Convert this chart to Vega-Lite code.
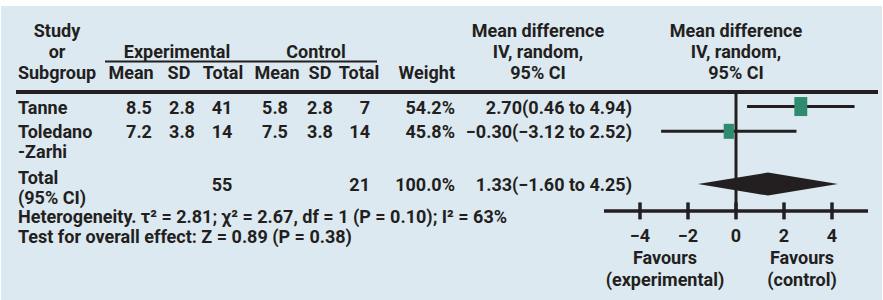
{
  "$schema": "https://vega.github.io/schema/vega-lite/v6.json",
  "width": 883,
  "height": 300,
  "autosize": {"type": "fit", "contains": "padding"},
  "padding": {"top": 6, "left": 1, "right": 1, "bottom": 0},
  "background": "#ffffff",
  "config": {
    "view": {"fill": "#dde9f1", "stroke": null},
    "text": {"font": "Roboto", "fontSize": 18, "fontWeight": "bold", "color": "#231f20", "baseline": "middle"}
  },
  "datasets": {
    "rows": [
      {"kind": "study", "study": "Tanne", "row": 4.55, "mean_e": "8.5", "sd_e": "2.8", "n_e": "41", "mean_c": "5.8", "sd_c": "2.8", "n_c": "7", "weight": 54.2, "weight_txt": "54.2%", "md": 2.70, "lo": 0.46, "hi": 4.94, "md_txt": "2.70(0.46 to 4.94)"},
      {"kind": "study", "study": "Toledano\n-Zarhi", "row": 5.73, "mean_e": "7.2", "sd_e": "3.8", "n_e": "14", "mean_c": "7.5", "sd_c": "3.8", "n_c": "14", "weight": 45.8, "weight_txt": "45.8%", "md": -0.30, "lo": -3.12, "hi": 2.52, "md_txt": "−0.30(−3.12 to 2.52)"},
      {"kind": "total", "study": "Total\n(95% CI)", "row": 8.24, "n_e": "55", "n_c": "21", "weight": 100.0, "weight_txt": "100.0%", "md": 1.33, "lo": -1.60, "hi": 4.25, "md_txt": "1.33(−1.60 to 4.25)"}
    ],
    "headers": [
      {"col": "study", "row": 1, "h": "Study"},
      {"col": "study", "row": 2, "h": "or"},
      {"col": "study", "row": 3, "h": "Subgroup"},
      {"col": "exp", "row": 2, "h": "Experimental"},
      {"col": "ctl", "row": 2, "h": "Control"},
      {"col": "mean_e", "row": 3, "h": "Mean"},
      {"col": "sd_e", "row": 3, "h": "SD"},
      {"col": "n_e", "row": 3, "h": "Total"},
      {"col": "mean_c", "row": 3, "h": "Mean"},
      {"col": "sd_c", "row": 3, "h": "SD"},
      {"col": "n_c", "row": 3, "h": "Total"},
      {"col": "weight", "row": 3, "h": "Weight"},
      {"col": "md", "row": 1, "h": "Mean difference"},
      {"col": "md", "row": 2, "h": "IV, random,"},
      {"col": "md", "row": 3, "h": "95% CI"},
      {"col": "plot", "row": 1, "h": "Mean difference"},
      {"col": "plot", "row": 2, "h": "IV, random,"},
      {"col": "plot", "row": 3, "h": "95% CI"}
    ],
    "notes": [
      {"row": 9.86, "note": "Heterogeneity. τ² = 2.81; χ² = 2.67, df = 1 (P = 0.10); I² = 63%"},
      {"row": 10.81, "note": "Test for overall effect: Z = 0.89 (P = 0.38)"}
    ],
    "ticks": [{"v": -4}, {"v": -2}, {"v": 0}, {"v": 2}, {"v": 4}],
    "favours": [
      {"md": -2.96, "label": "Favours\n(experimental)"},
      {"md": 2.75, "label": "Favours\n(control)"}
    ],
    "blank": [{}]
  },
  "resolve": {"scale": {"x": "independent"}},
  "layer": [
    {
      "layer": [
        {"data": {"name": "headers"}, "transform": [{"filter": "datum.col == 'study'"}], "mark": {"type": "text", "align": "center"},
         "encoding": {"x": {"datum": 57, "type": "quantitative", "scale": {"domain": [1, 882], "nice": false, "zero": false}, "axis": null},
                      "y": {"field": "row", "type": "quantitative", "scale": {"domain": [-0.238, 13.762], "reverse": true, "nice": false, "zero": false}, "axis": null},
                      "text": {"field": "h"}}},
        {"data": {"name": "headers"}, "transform": [{"filter": "datum.col == 'exp'"}], "mark": {"type": "text", "align": "center"},
         "encoding": {"x": {"datum": 177, "type": "quantitative", "scale": {"domain": [1, 882], "nice": false, "zero": false}, "axis": null},
                      "y": {"field": "row", "type": "quantitative", "scale": {"domain": [-0.238, 13.762], "reverse": true, "nice": false, "zero": false}, "axis": null},
                      "text": {"field": "h"}}},
        {"data": {"name": "headers"}, "transform": [{"filter": "datum.col == 'ctl'"}], "mark": {"type": "text", "align": "center"},
         "encoding": {"x": {"datum": 316, "type": "quantitative", "scale": {"domain": [1, 882], "nice": false, "zero": false}, "axis": null},
                      "y": {"field": "row", "type": "quantitative", "scale": {"domain": [-0.238, 13.762], "reverse": true, "nice": false, "zero": false}, "axis": null},
                      "text": {"field": "h"}}},
        {"data": {"name": "headers"}, "transform": [{"filter": "datum.col == 'mean_e'"}], "mark": {"type": "text", "align": "center"},
         "encoding": {"x": {"datum": 131, "type": "quantitative", "scale": {"domain": [1, 882], "nice": false, "zero": false}, "axis": null},
                      "y": {"field": "row", "type": "quantitative", "scale": {"domain": [-0.238, 13.762], "reverse": true, "nice": false, "zero": false}, "axis": null},
                      "text": {"field": "h"}}},
        {"data": {"name": "headers"}, "transform": [{"filter": "datum.col == 'sd_e'"}], "mark": {"type": "text", "align": "center"},
         "encoding": {"x": {"datum": 179, "type": "quantitative", "scale": {"domain": [1, 882], "nice": false, "zero": false}, "axis": null},
                      "y": {"field": "row", "type": "quantitative", "scale": {"domain": [-0.238, 13.762], "reverse": true, "nice": false, "zero": false}, "axis": null},
                      "text": {"field": "h"}}},
        {"data": {"name": "headers"}, "transform": [{"filter": "datum.col == 'n_e'"}], "mark": {"type": "text", "align": "center"},
         "encoding": {"x": {"datum": 223, "type": "quantitative", "scale": {"domain": [1, 882], "nice": false, "zero": false}, "axis": null},
                      "y": {"field": "row", "type": "quantitative", "scale": {"domain": [-0.238, 13.762], "reverse": true, "nice": false, "zero": false}, "axis": null},
                      "text": {"field": "h"}}},
        {"data": {"name": "headers"}, "transform": [{"filter": "datum.col == 'mean_c'"}], "mark": {"type": "text", "align": "center"},
         "encoding": {"x": {"datum": 277, "type": "quantitative", "scale": {"domain": [1, 882], "nice": false, "zero": false}, "axis": null},
                      "y": {"field": "row", "type": "quantitative", "scale": {"domain": [-0.238, 13.762], "reverse": true, "nice": false, "zero": false}, "axis": null},
                      "text": {"field": "h"}}},
        {"data": {"name": "headers"}, "transform": [{"filter": "datum.col == 'sd_c'"}], "mark": {"type": "text", "align": "center"},
         "encoding": {"x": {"datum": 320, "type": "quantitative", "scale": {"domain": [1, 882], "nice": false, "zero": false}, "axis": null},
                      "y": {"field": "row", "type": "quantitative", "scale": {"domain": [-0.238, 13.762], "reverse": true, "nice": false, "zero": false}, "axis": null},
                      "text": {"field": "h"}}},
        {"data": {"name": "headers"}, "transform": [{"filter": "datum.col == 'n_c'"}], "mark": {"type": "text", "align": "center"},
         "encoding": {"x": {"datum": 359, "type": "quantitative", "scale": {"domain": [1, 882], "nice": false, "zero": false}, "axis": null},
                      "y": {"field": "row", "type": "quantitative", "scale": {"domain": [-0.238, 13.762], "reverse": true, "nice": false, "zero": false}, "axis": null},
                      "text": {"field": "h"}}},
        {"data": {"name": "headers"}, "transform": [{"filter": "datum.col == 'weight'"}], "mark": {"type": "text", "align": "right"},
         "encoding": {"x": {"datum": 455, "type": "quantitative", "scale": {"domain": [1, 882], "nice": false, "zero": false}, "axis": null},
                      "y": {"field": "row", "type": "quantitative", "scale": {"domain": [-0.238, 13.762], "reverse": true, "nice": false, "zero": false}, "axis": null},
                      "text": {"field": "h"}}},
        {"data": {"name": "headers"}, "transform": [{"filter": "datum.col == 'md'"}], "mark": {"type": "text", "align": "center"},
         "encoding": {"x": {"datum": 538, "type": "quantitative", "scale": {"domain": [1, 882], "nice": false, "zero": false}, "axis": null},
                      "y": {"field": "row", "type": "quantitative", "scale": {"domain": [-0.238, 13.762], "reverse": true, "nice": false, "zero": false}, "axis": null},
                      "text": {"field": "h"}}},
        {"data": {"name": "blank"}, "mark": {"type": "rule", "strokeWidth": 2, "color": "#231f20"},
         "encoding": {"x": {"datum": 105, "type": "quantitative", "scale": {"domain": [1, 882], "nice": false, "zero": false}, "axis": null},
                      "x2": {"datum": 377},
                      "y": {"datum": 2.4, "type": "quantitative", "scale": {"domain": [-0.238, 13.762], "reverse": true, "nice": false, "zero": false}, "axis": null}}},
        {"data": {"name": "blank"}, "mark": {"type": "rule", "strokeWidth": 4, "color": "#231f20"},
         "encoding": {"x": {"datum": 16, "type": "quantitative", "scale": {"domain": [1, 882], "nice": false, "zero": false}, "axis": null},
                      "x2": {"datum": 878},
                      "y": {"datum": 3.86, "type": "quantitative", "scale": {"domain": [-0.238, 13.762], "reverse": true, "nice": false, "zero": false}, "axis": null}}},
        {"data": {"name": "rows"}, "transform": [{"filter": "datum.kind == 'study'"}], "mark": {"type": "text", "align": "left", "dy": 2, "lineBreak": "\n", "lineHeight": 20},
         "encoding": {"x": {"datum": 18, "type": "quantitative", "scale": {"domain": [1, 882], "nice": false, "zero": false}, "axis": null},
                      "y": {"field": "row", "type": "quantitative", "scale": {"domain": [-0.238, 13.762], "reverse": true, "nice": false, "zero": false}, "axis": null},
                      "text": {"field": "study"}}},
        {"data": {"name": "rows"}, "transform": [{"filter": "datum.kind == 'total'"}], "mark": {"type": "text", "align": "left", "dy": -5, "lineBreak": "\n", "lineHeight": 20},
         "encoding": {"x": {"datum": 18, "type": "quantitative", "scale": {"domain": [1, 882], "nice": false, "zero": false}, "axis": null},
                      "y": {"field": "row", "type": "quantitative", "scale": {"domain": [-0.238, 13.762], "reverse": true, "nice": false, "zero": false}, "axis": null},
                      "text": {"field": "study"}}},
        {"data": {"name": "rows"}, "transform": [{"filter": "datum.kind == 'study'"}], "mark": {"type": "text", "align": "center", "dy": 2},
         "encoding": {"x": {"datum": 139, "type": "quantitative", "scale": {"domain": [1, 882], "nice": false, "zero": false}, "axis": null},
                      "y": {"field": "row", "type": "quantitative", "scale": {"domain": [-0.238, 13.762], "reverse": true, "nice": false, "zero": false}, "axis": null},
                      "text": {"field": "mean_e"}}},
        {"data": {"name": "rows"}, "transform": [{"filter": "datum.kind == 'study'"}], "mark": {"type": "text", "align": "center", "dy": 2},
         "encoding": {"x": {"datum": 182, "type": "quantitative", "scale": {"domain": [1, 882], "nice": false, "zero": false}, "axis": null},
                      "y": {"field": "row", "type": "quantitative", "scale": {"domain": [-0.238, 13.762], "reverse": true, "nice": false, "zero": false}, "axis": null},
                      "text": {"field": "sd_e"}}},
        {"data": {"name": "rows"}, "mark": {"type": "text", "align": "center", "dy": 2},
         "encoding": {"x": {"datum": 222, "type": "quantitative", "scale": {"domain": [1, 882], "nice": false, "zero": false}, "axis": null},
                      "y": {"field": "row", "type": "quantitative", "scale": {"domain": [-0.238, 13.762], "reverse": true, "nice": false, "zero": false}, "axis": null},
                      "text": {"field": "n_e"}}},
        {"data": {"name": "rows"}, "transform": [{"filter": "datum.kind == 'study'"}], "mark": {"type": "text", "align": "center", "dy": 2},
         "encoding": {"x": {"datum": 275, "type": "quantitative", "scale": {"domain": [1, 882], "nice": false, "zero": false}, "axis": null},
                      "y": {"field": "row", "type": "quantitative", "scale": {"domain": [-0.238, 13.762], "reverse": true, "nice": false, "zero": false}, "axis": null},
                      "text": {"field": "mean_c"}}},
        {"data": {"name": "rows"}, "transform": [{"filter": "datum.kind == 'study'"}], "mark": {"type": "text", "align": "center", "dy": 2},
         "encoding": {"x": {"datum": 320, "type": "quantitative", "scale": {"domain": [1, 882], "nice": false, "zero": false}, "axis": null},
                      "y": {"field": "row", "type": "quantitative", "scale": {"domain": [-0.238, 13.762], "reverse": true, "nice": false, "zero": false}, "axis": null},
                      "text": {"field": "sd_c"}}},
        {"data": {"name": "rows"}, "mark": {"type": "text", "align": "right", "dy": 2},
         "encoding": {"x": {"datum": 370, "type": "quantitative", "scale": {"domain": [1, 882], "nice": false, "zero": false}, "axis": null},
                      "y": {"field": "row", "type": "quantitative", "scale": {"domain": [-0.238, 13.762], "reverse": true, "nice": false, "zero": false}, "axis": null},
                      "text": {"field": "n_c"}}},
        {"data": {"name": "rows"}, "mark": {"type": "text", "align": "right", "dy": 2},
         "encoding": {"x": {"datum": 455, "type": "quantitative", "scale": {"domain": [1, 882], "nice": false, "zero": false}, "axis": null},
                      "y": {"field": "row", "type": "quantitative", "scale": {"domain": [-0.238, 13.762], "reverse": true, "nice": false, "zero": false}, "axis": null},
                      "text": {"field": "weight_txt"}}},
        {"data": {"name": "rows"}, "mark": {"type": "text", "align": "right", "dy": 2},
         "encoding": {"x": {"datum": 632, "type": "quantitative", "scale": {"domain": [1, 882], "nice": false, "zero": false}, "axis": null},
                      "y": {"field": "row", "type": "quantitative", "scale": {"domain": [-0.238, 13.762], "reverse": true, "nice": false, "zero": false}, "axis": null},
                      "text": {"field": "md_txt"}}},
        {"data": {"name": "notes"}, "mark": {"type": "text", "align": "left"},
         "encoding": {"x": {"datum": 18, "type": "quantitative", "scale": {"domain": [1, 882], "nice": false, "zero": false}, "axis": null},
                      "y": {"field": "row", "type": "quantitative", "scale": {"domain": [-0.238, 13.762], "reverse": true, "nice": false, "zero": false}, "axis": null},
                      "text": {"field": "note"}}}
      ]
    },
    {
      "layer": [
        {"data": {"name": "headers"}, "transform": [{"filter": "datum.col == 'plot'"}], "mark": {"type": "text", "align": "center"},
         "encoding": {"x": {"datum": 0, "type": "quantitative", "scale": {"domain": [-30.625, 6.0833], "nice": false, "zero": false}, "axis": null},
                      "y": {"field": "row", "type": "quantitative", "scale": {"domain": [-0.238, 13.762], "reverse": true, "nice": false, "zero": false}, "axis": null},
                      "text": {"field": "h"}}},
        {"data": {"name": "blank"}, "mark": {"type": "rule", "strokeWidth": 3, "color": "#231f20"},
         "encoding": {"x": {"datum": 0, "type": "quantitative", "scale": {"domain": [-30.625, 6.0833], "nice": false, "zero": false}, "axis": null},
                      "y": {"datum": 3.86, "type": "quantitative", "scale": {"domain": [-0.238, 13.762], "reverse": true, "nice": false, "zero": false}, "axis": null},
                      "y2": {"datum": 9.52}}},
        {"data": {"name": "rows"}, "transform": [{"filter": "datum.kind == 'study'"}], "mark": {"type": "rule", "strokeWidth": 3, "color": "#231f20"},
         "encoding": {"x": {"field": "lo", "type": "quantitative", "scale": {"domain": [-30.625, 6.0833], "nice": false, "zero": false}, "axis": null},
                      "x2": {"field": "hi"},
                      "y": {"field": "row", "type": "quantitative", "scale": {"domain": [-0.238, 13.762], "reverse": true, "nice": false, "zero": false}, "axis": null}}},
        {"data": {"name": "rows"}, "transform": [{"filter": "datum.kind == 'study'"}],
         "mark": {"type": "point", "shape": "M-0.68,-1L0.68,-1L0.68,1L-0.68,1Z", "filled": true, "opacity": 1, "color": "#2e8b6e", "strokeWidth": 0},
         "encoding": {"x": {"field": "md", "type": "quantitative", "scale": {"domain": [-30.625, 6.0833], "nice": false, "zero": false}, "axis": null},
                      "y": {"field": "row", "type": "quantitative", "scale": {"domain": [-0.238, 13.762], "reverse": true, "nice": false, "zero": false}, "axis": null},
                      "size": {"field": "weight", "type": "quantitative", "scale": {"domain": [45.8, 54.2], "range": [225, 361], "zero": false}, "legend": null}}},
        {"data": {"name": "rows"}, "transform": [{"filter": "datum.kind == 'total'"}],
         "mark": {"type": "point", "shape": "M-1,0L0,-0.164L1,0L0,0.164Z", "size": 19600, "filled": true, "opacity": 1, "color": "#231f20", "strokeWidth": 0},
         "encoding": {"x": {"field": "md", "type": "quantitative", "scale": {"domain": [-30.625, 6.0833], "nice": false, "zero": false}, "axis": null},
                      "y": {"field": "row", "type": "quantitative", "scale": {"domain": [-0.238, 13.762], "reverse": true, "nice": false, "zero": false}, "axis": null}}},
        {"data": {"name": "blank"}, "mark": {"type": "rule", "strokeWidth": 3.5, "color": "#231f20"},
         "encoding": {"x": {"datum": -5.5, "type": "quantitative", "scale": {"domain": [-30.625, 6.0833], "nice": false, "zero": false}, "axis": null},
                      "x2": {"datum": 5.5},
                      "y": {"datum": 9.52, "type": "quantitative", "scale": {"domain": [-0.238, 13.762], "reverse": true, "nice": false, "zero": false}, "axis": null}}},
        {"data": {"name": "ticks"}, "mark": {"type": "tick", "orient": "vertical", "size": 17, "thickness": 3.5, "color": "#231f20", "opacity": 1},
         "encoding": {"x": {"field": "v", "type": "quantitative", "scale": {"domain": [-30.625, 6.0833], "nice": false, "zero": false}, "axis": null},
                      "y": {"datum": 9.52, "type": "quantitative", "scale": {"domain": [-0.238, 13.762], "reverse": true, "nice": false, "zero": false}, "axis": null}}},
        {"data": {"name": "ticks"}, "mark": {"type": "text", "align": "center"},
         "encoding": {"x": {"field": "v", "type": "quantitative", "scale": {"domain": [-30.625, 6.0833], "nice": false, "zero": false}, "axis": null},
                      "y": {"datum": 10.76, "type": "quantitative", "scale": {"domain": [-0.238, 13.762], "reverse": true, "nice": false, "zero": false}, "axis": null},
                      "text": {"field": "v", "type": "quantitative", "format": "d"}}},
        {"data": {"name": "favours"}, "mark": {"type": "text", "align": "center", "lineBreak": "\n", "lineHeight": 22},
         "encoding": {"x": {"field": "md", "type": "quantitative", "scale": {"domain": [-30.625, 6.0833], "nice": false, "zero": false}, "axis": null},
                      "y": {"datum": 11.81, "type": "quantitative", "scale": {"domain": [-0.238, 13.762], "reverse": true, "nice": false, "zero": false}, "axis": null},
                      "text": {"field": "label"}}}
      ]
    }
  ]
}
